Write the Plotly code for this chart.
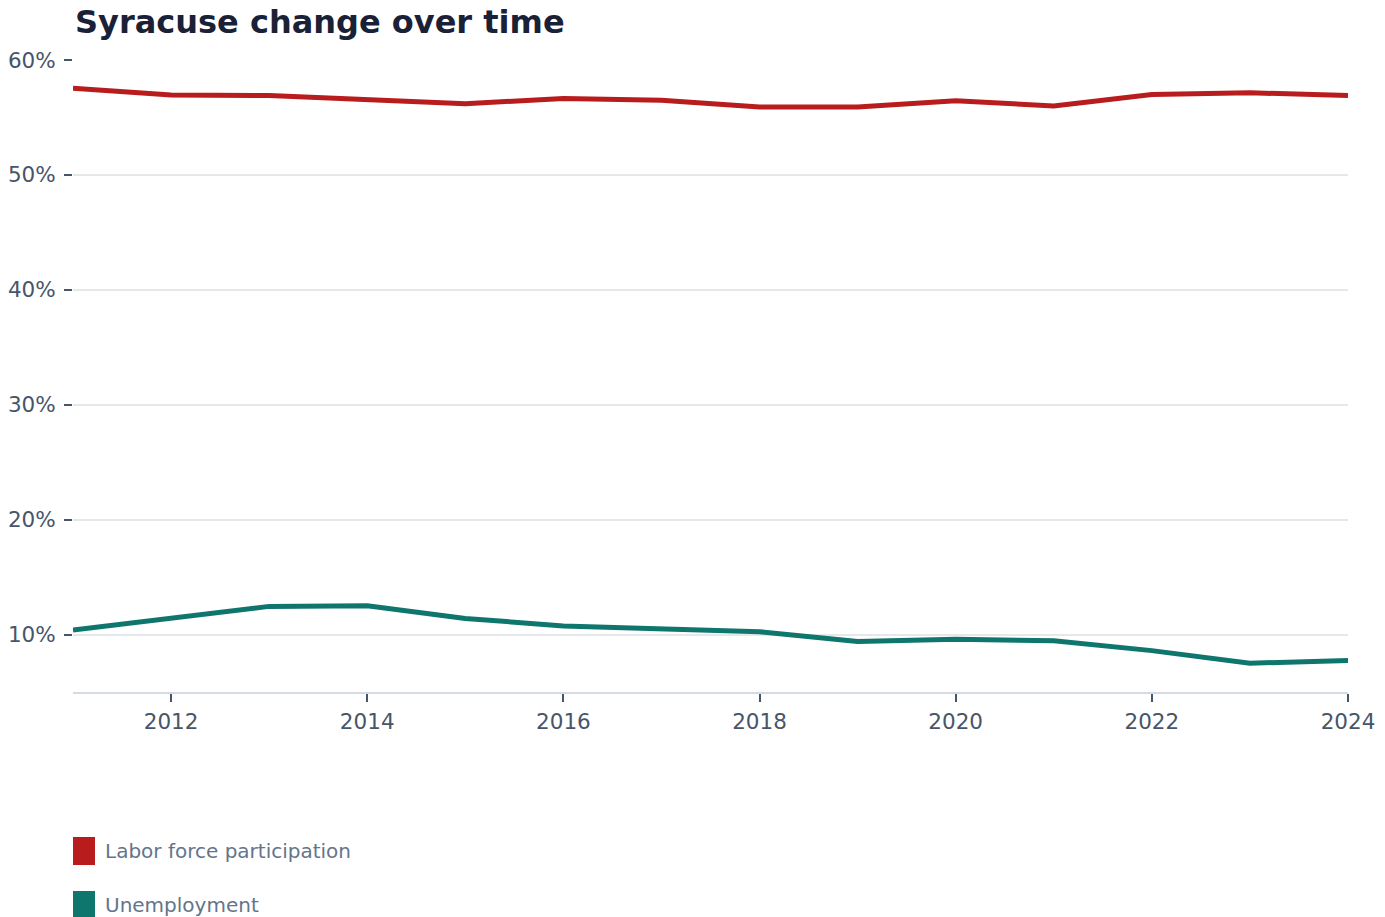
import plotly.graph_objects as go

years = [2011, 2012, 2013, 2014, 2015, 2016, 2017, 2018, 2019, 2020, 2021, 2022, 2023, 2024]
labor_force = [57.55, 56.95, 56.9, 56.5, 56.2, 56.65, 56.5, 55.9, 55.9, 56.45, 56.0, 57.0, 57.15, 56.9]
unemployment = [10.4, 11.45, 12.45, 12.5, 11.4, 10.75, 10.5, 10.25, 9.4, 9.6, 9.45, 8.6, 7.5, 7.75]
series_names = ["Labor force participation", "Unemployment"]
series_colors = ["#b91c1c", "#0f766e"]

W, H = 1385, 917
OFF = 8  # page offset of the figure in the browser
L, R, T, B = 73 - OFF, 37 + OFF, 60 - OFF, 225 + OFF
plot_h = H - T - B
plot_w = W - L - R

def py(screen_y):
    return (H - B - (screen_y - OFF)) / plot_h

def px(screen_x):
    return ((screen_x - OFF) - L) / plot_w

fig = go.Figure()
for name, vals, col in zip(series_names, [labor_force, unemployment], series_colors):
    fig.add_trace(go.Scatter(x=years, y=vals, mode="lines", name=name,
                             line=dict(color=col, width=5), showlegend=False,
                             hovertemplate="%{x}: %{y:.1f}%<extra>" + name + "</extra>"))

font = "DejaVu Sans"
legend_rows = [851, 905]
for name, col, cy in zip(series_names, series_colors, legend_rows):
    fig.add_shape(type="rect", xref="paper", yref="paper",
                  x0=px(73), x1=px(95), y0=py(cy - 14), y1=py(cy + 14),
                  fillcolor=col, line=dict(width=0))
    fig.add_annotation(xref="paper", yref="paper", x=px(103), y=py(cy),
                       xanchor="left", yanchor="middle", showarrow=False,
                       text=name, font=dict(family=font, size=20, color="#64748b"))

tick_size = 21.5
fig.update_layout(
    width=W, height=H,
    margin=dict(l=L, r=R, t=T, b=B, autoexpand=False),
    paper_bgcolor="white", plot_bgcolor="white",
    font=dict(family=font, size=20, color="#475569"),
    title=dict(text="<b>Syracuse change over time</b>", x=(75 - OFF) / W, xanchor="left",
               xref="container", yref="container", y=1 - 3 / H, yanchor="top",
               font=dict(family=font, size=32, color="#1a2035")),
    xaxis=dict(range=[2011, 2024], tick0=2012, dtick=2, showgrid=False,
               showline=True, linecolor="#d5dbe5", linewidth=2,
               ticks="outside", ticklen=8, tickwidth=2, tickcolor="#475569",
               ticklabelstandoff=1, automargin=False,
               tickfont=dict(family=font, size=tick_size, color="#475569"), zeroline=False),
    yaxis=dict(range=[5, 60], tick0=10, dtick=10, ticksuffix="%",
               showgrid=True, gridcolor="#e5e7eb", gridwidth=1.5,
               showline=False, zeroline=False, automargin=False,
               ticks="outside", ticklen=8, tickwidth=2, tickcolor="#475569",
               ticklabelstandoff=4,
               tickfont=dict(family=font, size=tick_size, color="#475569")),
    showlegend=False,
)

fig.write_html("out.html")
